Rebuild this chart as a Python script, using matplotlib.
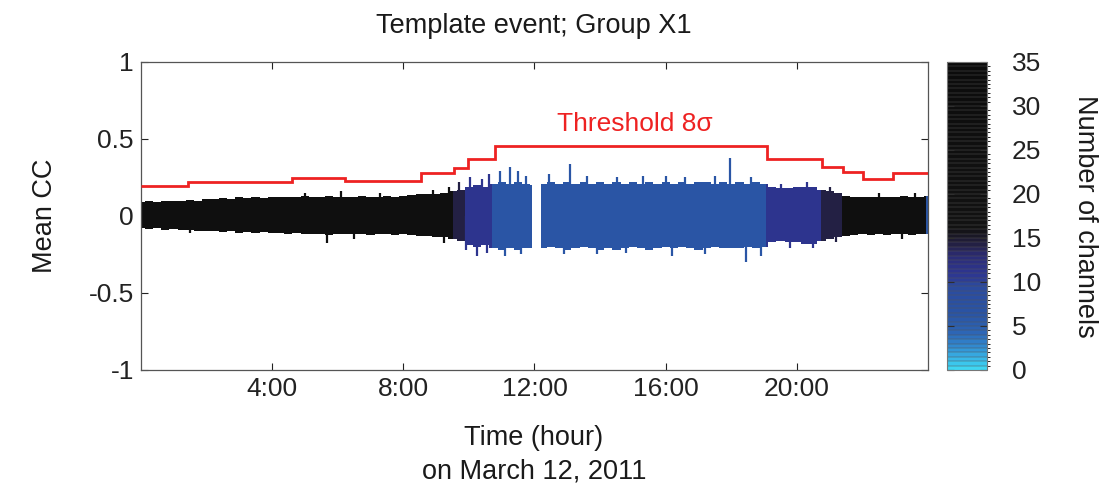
import numpy as np
import matplotlib
matplotlib.use("Agg")
import matplotlib.pyplot as plt
from matplotlib.colors import LinearSegmentedColormap, BoundaryNorm
from matplotlib.patches import Rectangle
import matplotlib.cm as cm

plt.rcParams['font.family'] = ['Liberation Sans', 'DejaVu Sans']

# ---------------- data ----------------
# envelope of mean CC, sampled every 0.25 h
env_t = np.arange(0, 24.01, 0.25)
env_top = [0.09, 0.095, 0.09, 0.10, 0.095, 0.10, 0.105, 0.10, 0.11,
           0.11, 0.115, 0.11, 0.12, 0.115, 0.12, 0.115, 0.12,
           0.12, 0.125, 0.12, 0.13, 0.12, 0.125, 0.13, 0.12,
           0.125, 0.12, 0.13, 0.125, 0.12, 0.13, 0.125, 0.13,
           0.135, 0.14, 0.145, 0.14, 0.15, 0.16, 0.17, 0.19,
           0.20, 0.19, 0.21, 0.22, 0.21, 0.22, 0.21, 0.20,
           0.21, 0.22, 0.21, 0.22, 0.21, 0.22, 0.21, 0.22,
           0.21, 0.22, 0.21, 0.22, 0.21, 0.22, 0.21, 0.22,
           0.21, 0.22, 0.21, 0.22, 0.22, 0.21, 0.22, 0.21,
           0.22, 0.21, 0.22, 0.21, 0.19, 0.18, 0.18, 0.19,
           0.19, 0.19, 0.17, 0.16, 0.15, 0.13, 0.125, 0.12,
           0.125, 0.12, 0.125, 0.12, 0.13, 0.125, 0.12, 0.13]
env_bot = [-0.08, -0.085, -0.08, -0.09, -0.085, -0.09, -0.09, -0.095, -0.10,
           -0.10, -0.105, -0.10, -0.11, -0.105, -0.11, -0.105, -0.11,
           -0.11, -0.115, -0.11, -0.12, -0.115, -0.12, -0.125, -0.115,
           -0.12, -0.115, -0.12, -0.125, -0.12, -0.12, -0.125, -0.12,
           -0.125, -0.13, -0.13, -0.135, -0.14, -0.15, -0.16, -0.19,
           -0.20, -0.19, -0.21, -0.22, -0.21, -0.22, -0.21, -0.21,
           -0.21, -0.20, -0.21, -0.22, -0.21, -0.20, -0.21, -0.22,
           -0.21, -0.22, -0.21, -0.20, -0.21, -0.22, -0.21, -0.20,
           -0.21, -0.20, -0.21, -0.22, -0.21, -0.20, -0.21, -0.21,
           -0.21, -0.20, -0.21, -0.20, -0.17, -0.16, -0.17, -0.17,
           -0.18, -0.18, -0.16, -0.15, -0.14, -0.13, -0.125, -0.12,
           -0.125, -0.12, -0.125, -0.12, -0.12, -0.125, -0.12, -0.12]

spike_up_t = [5.0, 6.1, 7.3, 8.9, 9.4, 9.7, 10.05, 10.4, 10.6, 10.95, 11.25, 11.5,
              11.75, 12.45, 13.08, 13.6, 14.5, 15.3, 16.0, 16.6, 17.5, 17.96,
              18.6, 19.5, 20.3, 21.0, 22.5, 23.6]
spike_up_v = [0.15, 0.16, 0.15, 0.17, 0.19, 0.22, 0.25, 0.24, 0.27, 0.29, 0.32, 0.29,
              0.26, 0.27, 0.34, 0.26, 0.25, 0.26, 0.26, 0.25, 0.26, 0.375,
              0.25, 0.21, 0.22, 0.19, 0.15, 0.15]
spike_dn_t = [1.5, 5.67, 6.5, 9.23, 9.9, 10.24, 10.55, 11.1, 11.6, 12.9, 13.9,
              14.8, 16.2, 17.2, 18.44, 18.9, 19.8, 20.5, 21.2, 23.2]
spike_dn_v = [-0.11, -0.175, -0.15, -0.175, -0.22, -0.26, -0.24, -0.26, -0.25, -0.25,
              -0.25, -0.24, -0.26, -0.25, -0.30, -0.26, -0.21, -0.21, -0.17, -0.15]

# segments with number of channels (colour)
seg_start = [0.0, 9.53, 9.89, 10.72, 12.2, 19.07, 20.73, 21.37, 23.92]
seg_end = [9.53, 9.89, 10.72, 11.9, 19.07, 20.73, 21.37, 23.92, 24.0]
seg_channels = [25, 14, 11, 6, 6, 11, 14, 25, 6]

# threshold 8 sigma (step function)
thr_t = [0, 1.44, 4.6, 6.23, 8.55, 9.55, 9.97, 10.8, 19.1, 20.76, 21.4, 22.0, 22.93, 24]
thr_v = [0.195, 0.223, 0.249, 0.227, 0.279, 0.31, 0.368, 0.457, 0.372, 0.316,
         0.284, 0.24, 0.281]

xticks = [4, 8, 12, 16, 20]
xticklabels = ['4:00', '8:00', '12:00', '16:00', '20:00']
yticks = [-1, -0.5, 0, 0.5, 1]
yticklabels = ['-1', '-0.5', '0', '0.5', '1']
cticks = [0, 5, 10, 15, 20, 25, 30, 35]

# ---------------- colormap ----------------
cm_pts = [(0 / 35, '#3fd6f2'), (1 / 35, '#38b8e8'), (2.5 / 35, '#318ad0'),
          (4 / 35, '#2d66b6'), (6 / 35, '#2a55a5'), (9.5 / 35, '#2b4a9e'),
          (10 / 35, '#2d3e96'), (11 / 35, '#2d3590'), (13 / 35, '#2b2b72'),
          (14 / 35, '#25224a'), (15 / 35, '#1c1a2c'), (16 / 35, '#121212'),
          (1.0, '#0c0c0c')]
cmap = LinearSegmentedColormap.from_list('chan', cm_pts, N=70)
bounds = np.linspace(0, 35, 71)
norm = BoundaryNorm(bounds, 70)

FS = 19
FSL = 19.5
TXT = '#1a1a1a'

# ---------------- figure ----------------
fig = plt.figure(figsize=(11.02, 4.88), dpi=100)
ax = fig.add_axes([0.1277, 0.242, 0.7146, 0.631])
cax = fig.add_axes([0.8595, 0.242, 0.036, 0.631])

for s0, s1, ch in zip(seg_start, seg_end, seg_channels):
    col = cmap(norm(ch))
    poly = ax.fill_between(env_t, env_bot, env_top, step='mid', color=col,
                           lw=0, zorder=2)
    clip = Rectangle((s0, -1), s1 - s0, 2, transform=ax.transData)
    poly.set_clip_path(clip)


def seg_color(t):
    for s0, s1, ch in zip(seg_start, seg_end, seg_channels):
        if s0 <= t < s1:
            return cmap(norm(ch))
    return 'none'


ax.vlines(spike_up_t, 0, spike_up_v, colors=[seg_color(t) for t in spike_up_t],
          lw=1.6, zorder=2)
ax.vlines(spike_dn_t, spike_dn_v, 0, colors=[seg_color(t) for t in spike_dn_t],
          lw=1.6, zorder=2)

ax.stairs(thr_v, thr_t, color='#ee2222', lw=2.0, zorder=3, baseline=None)
ax.text(15.05, 0.60, 'Threshold 8σ', color='#ee2222', fontsize=FS,
        ha='center', va='center')

ax.set_xlim(0, 24)
ax.set_ylim(-1, 1)
ax.set_xticks(xticks)
ax.set_xticklabels(xticklabels)
ax.set_yticks(yticks)
ax.set_yticklabels(yticklabels)
ax.tick_params(direction='in', length=5, width=0.8, top=True, right=True,
               labelsize=FS, colors='#222222')
ax.tick_params(axis='x', pad=5)
ax.tick_params(axis='y', pad=5)
for sp in ax.spines.values():
    sp.set_color('#555555')
    sp.set_linewidth(0.9)

fig.text(0.4846, 0.947, 'Template event; Group X1', fontsize=FSL,
         ha='center', va='center', color=TXT)
fig.text(0.4846, 0.1025, 'Time (hour)', fontsize=FSL, ha='center', va='center',
         color=TXT)
fig.text(0.4846, 0.033, 'on March 12, 2011', fontsize=FSL, ha='center',
         va='center', color=TXT)
fig.text(45 / 1102, 0.557, 'Mean CC', fontsize=FSL, rotation=90, ha='center',
         va='center', color=TXT)
fig.text(1085 / 1102, 0.557, 'Number of channels', fontsize=FSL, rotation=270,
         ha='center', va='center', color=TXT)

sm = cm.ScalarMappable(norm=norm, cmap=cmap)
cbar = fig.colorbar(sm, cax=cax, drawedges=True, ticks=cticks)
cbar.dividers.set_color('#555555')
cbar.dividers.set_linewidth(0.35)
cbar.outline.set_edgecolor('#777777')
cbar.outline.set_linewidth(0.8)
cbar.ax.tick_params(direction='in', length=5, left=True, right=True,
                    labelsize=FS, pad=18, colors='#222222')
cbar.set_ticklabels([str(c) for c in cticks])

fig.savefig('out.png', dpi=100)
